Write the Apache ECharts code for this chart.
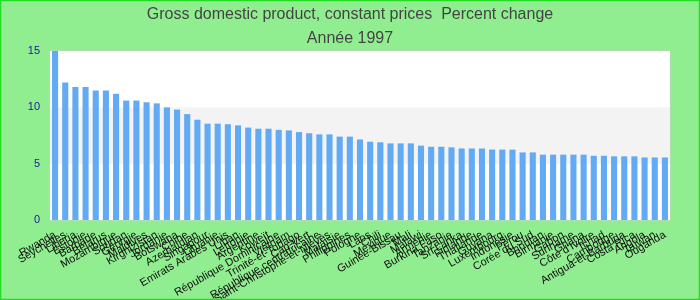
<!DOCTYPE html>
<html><head><meta charset="utf-8">
<script src="https://cdn.jsdelivr.net/npm/echarts@6/dist/echarts.min.js"></script>
<style>html,body{margin:0;padding:0;}#c{width:700px;height:300px;}</style>
</head><body><div id="c"></div>
<script>
const categories = ["Rwanda","Seychelles","Liberia","Estonie","Barbade","Bélarus","Mozambique","Soudan","Géorgie","Maldives","Kirghizistan","Jordanie","Botswana","Chine","Azerbaïdjan","Singapour","Lituanie","Emirats Arabes Unis","Liban","Lettonie","Argentine","Koweït","République Dominicaine","Vietnam","Trinité-et-Tobago","Cap-Vert","République centrafricaine","Saint-Christophe-et-Niévès","Malaisie","Philippines","Pologne","Laos","Chili","Mexique","Guinée-Bissau","Mali","Malawi","Arménie","Burkina Faso","Tanzanie","Sri Lanka","Finlande","Thaïlande","Guyana","Luxembourg","Indonésie","Pérou","Corée du Sud","Bhoutan","Birmanie","Gabon","Suriname","Ghana","Côte d'Ivoire","Tchad","Cambodge","Antigua-et-Barbuda","Costa Rica","Angola","Taïwan","Ouganda"];
const values = [15.0,12.2,11.8,11.8,11.5,11.5,11.2,10.6,10.6,10.45,10.35,10.0,9.8,9.4,8.9,8.55,8.55,8.5,8.4,8.2,8.1,8.1,8.0,7.95,7.8,7.7,7.6,7.6,7.4,7.4,7.15,6.95,6.9,6.8,6.8,6.8,6.6,6.5,6.5,6.45,6.35,6.35,6.35,6.25,6.25,6.25,6.0,6.0,5.8,5.8,5.8,5.8,5.8,5.7,5.7,5.65,5.65,5.65,5.55,5.55,5.55];
const yTicks = {min:0, max:15, interval:5};
const chart = echarts.init(document.getElementById('c'));
chart.setOption({
  backgroundColor:'#90ee90',
  animation:false,
  graphic:[{type:'rect',shape:{x:0.5,y:0.5,width:699,height:299},style:{fill:'none',stroke:'#22dd22',lineWidth:1.5},silent:true,z:100}],
  title:[
    {text:'Gross domestic product, constant prices  Percent change',left:'center',top:2,textStyle:{fontSize:16,fontWeight:'normal',color:'#444',fontFamily:'Liberation Sans, Arial'}},
    {text:'Année 1997',left:'center',top:26,textStyle:{fontSize:16,fontWeight:'normal',color:'#444',fontFamily:'Liberation Sans, Arial'}}
  ],
  grid:{left:50,right:30,top:51,bottom:80,outerBoundsMode:'none',containLabel:false,show:true,borderColor:'#ccc',borderWidth:1,backgroundColor:'#fff'},
  xAxis:{type:'category',data:categories,
    axisLine:{show:false},axisTick:{show:false},
    axisLabel:{interval:0,rotate:30,fontSize:11,color:'#111',fontFamily:'Liberation Sans, Arial',margin:14}},
  yAxis:{type:'value',min:yTicks.min,max:yTicks.max,interval:yTicks.interval,
    axisLine:{show:false},axisTick:{show:false},
    axisLabel:{color:'#1a1a99',fontSize:11,fontFamily:'Liberation Sans, Arial',margin:10},
    splitLine:{show:false},
    splitArea:{show:true,areaStyle:{color:['#ffffff','#f3f3f3']}}},
  series:[{type:'bar',data:values,barWidth:'60%',itemStyle:{color:'#62aaf3'}}]
});
</script></body></html>
